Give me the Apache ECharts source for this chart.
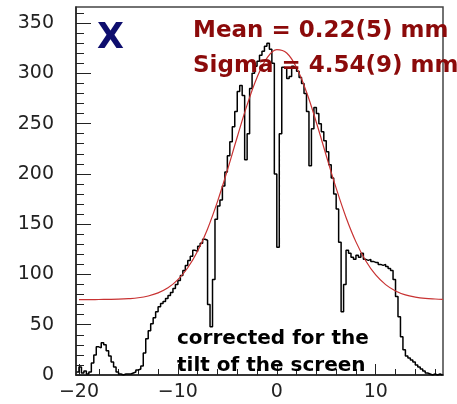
<!DOCTYPE html>
<html lang="en">

<head>
    <meta charset="UTF-8">
    <title>X profile</title>
    <script src="https://cdn.jsdelivr.net/npm/echarts@6/dist/echarts.min.js"></script>
    <style>
        * {
            margin: 0;
            padding: 0;
        }

        #main {
            width: 457px;
            height: 404px;
            background: #fff;
        }
    </style>
</head>

<body>
    <div id="main"></div>
    <script>
        // histogram: first bin low edge, bin width and counts per bin
        let binLow = -20.25;
        let binWidth = 0.25;
        let counts = [
            3, 8, 2, 4, 1, 3, 12, 20, 28, 27, 32, 30, 24, 19, 13, 8,
            3, 1, 0, 1, 1, 1, 2, 3, 5, 6, 9, 22, 36, 44, 51, 57,
            63, 68, 71, 73, 76, 79, 82, 86, 90, 94, 99, 104, 109, 114, 118, 124,
            123, 128, 131, 135, 134, 70, 48, 95, 155, 168, 174, 188, 202, 218, 232, 247,
            262, 282, 288, 278, 214, 240, 285, 300, 307, 312, 318, 322, 327, 330, 324, 310,
            200, 127, 240, 306, 305, 295, 297, 307, 305, 302, 296, 290, 280, 262, 208, 245,
            266, 260, 250, 242, 233, 222, 209, 196, 180, 165, 132, 63, 90, 124, 121, 117,
            115, 119, 117, 121, 115, 114, 115, 113, 112, 112, 110, 109, 110, 108, 106, 104,
            95, 78, 58, 38, 25, 19, 17, 15, 13, 10, 8, 6, 4, 2, 1, 0,
            1, 0, 1, 0
        ];

        // gaussian fit
        let fitX = [-20, -19, -18, -17, -16, -15, -14, -13, -12, -11, -10, -9, -8, -7, -6, -5, -4, -3, -2, -1,
            0, 1, 2, 3, 4, 5, 6, 7, 8, 9, 10, 11, 12, 13, 14, 15, 16, 16.8];
        let fitY = [75, 75, 75.1, 75.2, 75.4, 75.9, 76.8, 78.6, 81.7, 86.7, 94.8, 106.7, 123.3, 145.3, 172.4, 203.6, 236.7, 268.6, 295.9, 315.2,
            323.7, 320.3, 305.6, 281.4, 251.1, 218.1, 185.8, 156.7, 132.4, 113.4, 99.5, 89.9, 83.6, 79.7, 77.5, 76.2, 75.6, 75.3];

        let xMajor = [-20, -10, 0, 10];
        let xMinor = [-18, -16, -14, -12, -8, -6, -4, -2, 2, 4, 6, 8, 12, 14, 16];
        let yMajor = [0, 50, 100, 150, 200, 250, 300, 350];
        let yMinor = [10, 20, 30, 40, 60, 70, 80, 90, 110, 120, 130, 140, 160, 170, 180, 190,
            210, 220, 230, 240, 260, 270, 280, 290, 310, 320, 330, 340, 360];

        let histData = counts.map((c, i) => [binLow + i * binWidth, c]);
        histData.push([binLow + counts.length * binWidth, counts[counts.length - 1]]);
        let fitData = fitX.map((x, i) => [x, fitY[i]]);

        let axisColor = '#222';
        let labelFont = { fontFamily: 'DejaVu Sans', fontSize: 19, color: '#222' };

        let myChart = echarts.init(document.getElementById('main'));
        let option = {
            animation: false,
            backgroundColor: '#fff',
            grid: {
                left: 76,
                right: 14,
                top: 7,
                bottom: 29,
                show: true,
                borderColor: '#444',
                borderWidth: 1.5
            },
            xAxis: [{
                type: 'value',
                position: 'bottom',
                min: -20.3,
                max: 16.8,
                axisLine: { onZero: false, lineStyle: { color: axisColor, width: 1.5 } },
                axisTick: { inside: true, length: 11, customValues: xMajor, lineStyle: { color: axisColor } },
                axisLabel: Object.assign({
                    margin: 8,
                    customValues: xMajor,
                    formatter: v => v < 0 ? '\u2212' + Math.abs(v) : '' + v
                }, labelFont),
                splitLine: { show: false }
            }, {
                type: 'value',
                position: 'bottom',
                min: -20.3,
                max: 16.8,
                axisLine: { show: false, onZero: false },
                axisTick: { inside: true, length: 6, customValues: xMinor, lineStyle: { color: axisColor } },
                axisLabel: { show: false },
                splitLine: { show: false }
            }],
            yAxis: [{
                type: 'value',
                position: 'left',
                min: 0,
                max: 366,
                axisLine: { show: true, onZero: false, lineStyle: { color: axisColor, width: 1.5 } },
                axisTick: { inside: true, length: 15, customValues: yMajor, lineStyle: { color: axisColor } },
                axisLabel: Object.assign({ margin: 22, customValues: yMajor }, labelFont),
                splitLine: { show: false }
            }, {
                type: 'value',
                position: 'left',
                min: 0,
                max: 366,
                axisLine: { show: false, onZero: false },
                axisTick: { inside: true, length: 8, customValues: yMinor, lineStyle: { color: axisColor } },
                axisLabel: { show: false },
                splitLine: { show: false }
            }],
            series: [{
                type: 'line',
                name: 'data',
                step: 'end',
                data: histData,
                showSymbol: false,
                lineStyle: { color: '#000', width: 1.5 },
                z: 2
            }, {
                type: 'line',
                name: 'fit',
                data: fitData,
                smooth: 0.4,
                showSymbol: false,
                lineStyle: { color: '#c83232', width: 1.2 },
                z: 3
            }],
            graphic: [{
                type: 'text',
                x: 97,
                y: 39,
                z: 10,
                style: { text: 'X', font: 'bold 35px "DejaVu Sans"', fill: '#0e0e6e', verticalAlign: 'middle' }
            }, {
                type: 'text',
                x: 193,
                y: 31,
                z: 10,
                style: { text: 'Mean = 0.22(5) mm', font: 'bold 23px "DejaVu Sans"', fill: '#8b0a0a', verticalAlign: 'middle' }
            }, {
                type: 'text',
                x: 193,
                y: 66,
                z: 10,
                style: { text: 'Sigma = 4.54(9) mm', font: 'bold 23px "DejaVu Sans"', fill: '#8b0a0a', verticalAlign: 'middle' }
            }, {
                type: 'text',
                x: 177,
                y: 339,
                z: 10,
                style: { text: 'corrected for the', font: 'bold 20px "DejaVu Sans"', fill: '#000', verticalAlign: 'middle' }
            }, {
                type: 'text',
                x: 177,
                y: 366,
                z: 10,
                style: { text: 'tilt of the screen', font: 'bold 20px "DejaVu Sans"', fill: '#000', verticalAlign: 'middle' }
            }]
        };
        myChart.setOption(option);
    </script>
</body>

</html>
